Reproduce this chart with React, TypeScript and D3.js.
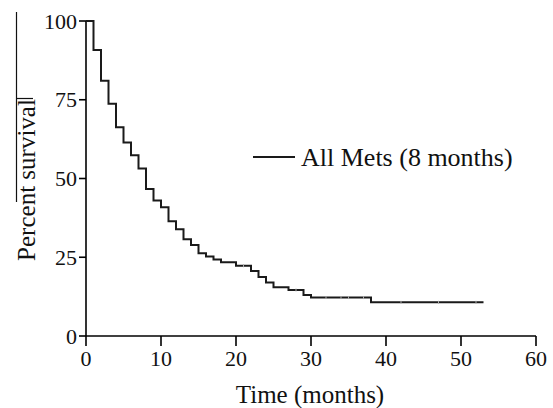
import React from "react";
import * as d3 from "d3";

const stepTimes = [0, 1, 2, 3, 4, 5, 6, 7, 8, 9, 10, 11, 12, 13, 14, 15, 16, 17, 18, 20, 22, 23, 24, 25, 27, 29, 30, 38];
const stepSurvival = [100, 90.8, 81, 73.7, 66.3, 61.4, 57.4, 53.2, 46.7, 43, 40.9, 36.4, 33.9, 30.7, 28.9, 26.3, 25.2, 24.3, 23.4, 22.3, 20.6, 18.7, 17.0, 15.5, 14.6, 13.0, 12.2, 10.7];
const endTime = 53;
const censorTimes = [21, 28, 32, 34, 35, 37, 42, 47, 52];
const xTicks = [0, 10, 20, 30, 40, 50, 60];
const yTicks = [0, 25, 50, 75, 100];
const legendLabel = "All Mets (8 months)";
const xTitle = "Time (months)";
const yTitle = "Percent survival";

const FONT = "'Liberation Serif', 'Times New Roman', serif";

export default function App() {
  const x = d3.scaleLinear().domain([0, 60]).range([86, 536]);
  const y = d3.scaleLinear().domain([0, 100]).range([336, 21]);

  const pts: [number, number][] = stepTimes.map((t, i) => [t, stepSurvival[i]]);
  pts.push([endTime, stepSurvival[stepSurvival.length - 1]]);
  const line = d3
    .line<[number, number]>()
    .x((d) => x(d[0]))
    .y((d) => y(d[1]))
    .curve(d3.curveStepAfter);

  const survAt = (t: number) => {
    let v = stepSurvival[0];
    stepTimes.forEach((st, i) => {
      if (st <= t) v = stepSurvival[i];
    });
    return v;
  };

  return (
    <svg
      width={553}
      height={408}
      style={{ position: "absolute", left: 0, top: 0, background: "#fff" }}
      fontFamily={FONT}
    >
      {/* stray lines near y title */}
      <line x1={16.5} y1={12} x2={16.5} y2={202} stroke="#111" strokeWidth={1.2} />
      <line x1={16.5} y1={98.5} x2={33} y2={98.5} stroke="#111" strokeWidth={1.2} />

      {/* axes */}
      <line x1={x(0)} y1={y(0)} x2={x(60)} y2={y(0)} stroke="#000" strokeWidth={1.6} />
      <line x1={x(0)} y1={y(0)} x2={x(0)} y2={y(100)} stroke="#000" strokeWidth={1.6} />
      {xTicks.map((t) => (
        <g key={"xt" + t}>
          <line x1={x(t)} y1={y(0)} x2={x(t)} y2={y(0) + 10} stroke="#000" strokeWidth={1.6} />
          <text x={x(t)} y={366} textAnchor="middle" fontSize={22} fill="#111">
            {t}
          </text>
        </g>
      ))}
      {yTicks.map((t) => (
        <g key={"yt" + t}>
          <line x1={x(0) - 7} y1={y(t)} x2={x(0)} y2={y(t)} stroke="#000" strokeWidth={1.6} />
          <text x={77} y={y(t) + 7.5} textAnchor="end" fontSize={22} fill="#111">
            {t}
          </text>
        </g>
      ))}

      {/* curve */}
      <path d={line(pts) || ""} fill="none" stroke="#1a1a1a" strokeWidth={2} />
      {censorTimes.map((t) => (
        <line
          key={"c" + t}
          x1={x(t)}
          x2={x(t)}
          y1={y(survAt(t)) - 1.5}
          y2={y(survAt(t)) + 1.5}
          stroke="#aaa"
          strokeWidth={1}
        />
      ))}

      {/* legend */}
      <line x1={253} y1={157} x2={295} y2={157} stroke="#1a1a1a" strokeWidth={2} />
      <text x={301} y={166} fontSize={26} fill="#111">
        {legendLabel}
      </text>

      {/* titles */}
      <text x={310} y={403} textAnchor="middle" fontSize={25} fill="#111">
        {xTitle}
      </text>
      <text
        transform="translate(35,180) rotate(-90)"
        textAnchor="middle"
        fontSize={25}
        fill="#111"
      >
        {yTitle}
      </text>
    </svg>
  );
}
